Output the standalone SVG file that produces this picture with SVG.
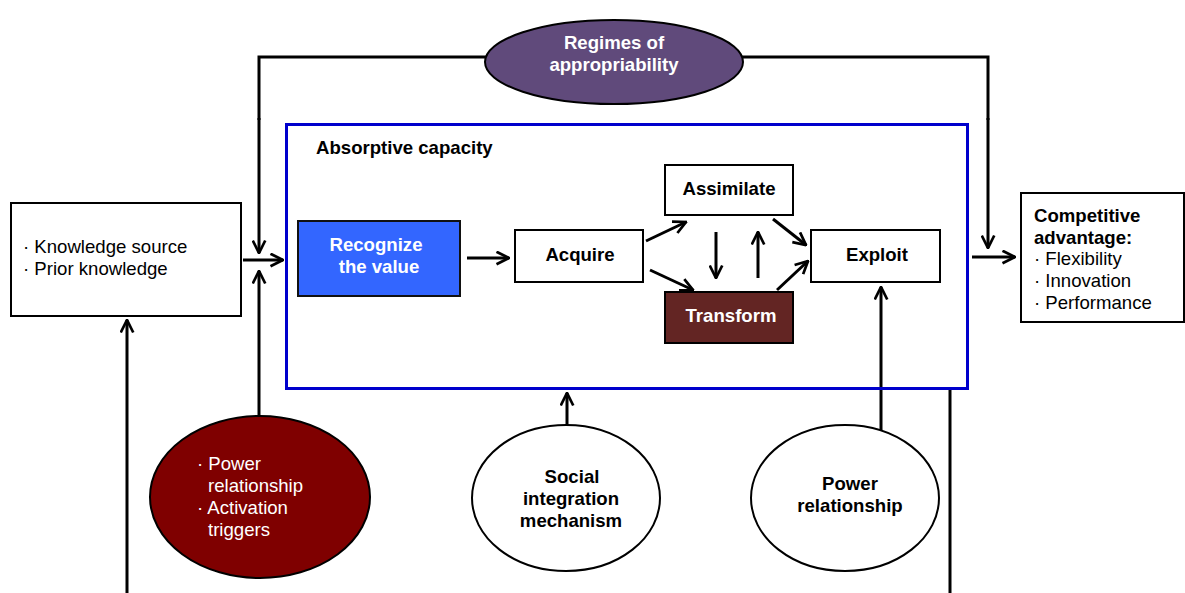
<svg xmlns="http://www.w3.org/2000/svg" width="1185" height="593" viewBox="0 0 1185 593">
  <defs>
    <marker id="arr" viewBox="0 0 12 12" refX="11" refY="6" markerWidth="5" markerHeight="5" orient="auto" markerUnits="strokeWidth">
      <path d="M1,1 L11,6 L1,11" fill="none" stroke="#000" stroke-width="2.2" stroke-linejoin="miter"/>
    </marker>
  </defs>
  <style>
    text { font-family: "Liberation Sans", Arial, sans-serif; font-size: 18.6px; }
    .b { font-weight: bold; }
    .w { fill: #ffffff; }
    .k { fill: #000000; }
    .mid { text-anchor: middle; }
    .box { fill: #ffffff; stroke: #000; stroke-width: 2; }
    .line { fill: none; stroke: #000; stroke-width: 3; }
    .arrow { fill: none; stroke: #000; stroke-width: 3; marker-end: url(#arr); }
  </style>
  <rect width="1185" height="593" fill="#ffffff"/>

  <!-- connectors -->
  <g id="connectors">
    <!-- appropriability feedback loop -->
    <polyline class="line" points="486,57 259,57 259,120"/>
    <line class="arrow" x1="259" y1="118" x2="259" y2="253"/>
    <polyline class="line" points="742,57 988,57 988,120"/>
    <line class="arrow" x1="988" y1="118" x2="988" y2="248"/>
    <!-- inputs into absorptive capacity -->
    <line class="arrow" x1="243" y1="260" x2="283" y2="260"/>
    <line class="arrow" x1="259" y1="417" x2="259" y2="271"/>
    <line class="arrow" x1="127" y1="593" x2="127" y2="320"/>
    <!-- internal process -->
    <line class="arrow" x1="467" y1="258" x2="509" y2="258"/>
    <line class="arrow" x1="646" y1="241" x2="686" y2="222"/>
    <line class="arrow" x1="650" y1="270" x2="693" y2="290"/>
    <line class="arrow" x1="716" y1="232" x2="716" y2="278"/>
    <line class="arrow" x1="758" y1="278" x2="758" y2="232"/>
    <line class="arrow" x1="773" y1="219" x2="806" y2="245"/>
    <line class="arrow" x1="777" y1="290" x2="808" y2="261"/>
    <!-- outputs -->
    <line class="arrow" x1="972" y1="257" x2="1015" y2="257"/>
    <line class="arrow" x1="567" y1="425" x2="567" y2="393"/>
    <line class="arrow" x1="881" y1="430" x2="881" y2="287"/>
    <line class="line" x1="950" y1="390" x2="950" y2="593"/>
  </g>

  <!-- absorptive capacity frame -->
  <g id="absorptive-capacity">
    <rect x="286.5" y="124.5" width="681" height="264" fill="none" stroke="#0000cc" stroke-width="3"/>
    <text class="b k" x="316" y="154">Absorptive capacity</text>
  </g>

  <g id="knowledge">
    <rect class="box" x="11" y="203" width="230" height="113"/>
    <text class="k" x="23" y="253">· Knowledge source</text>
    <text class="k" x="23" y="275">· Prior knowledge</text>
  </g>

  <g id="regimes">
    <ellipse cx="614" cy="62" rx="129" ry="42" fill="#604a7b" stroke="#000" stroke-width="2"/>
    <text class="b w mid" x="614" y="49">Regimes of</text>
    <text class="b w mid" x="614" y="71">appropriability</text>
  </g>

  <g id="recognize">
    <rect x="298" y="221" width="162" height="75" fill="#3366ff" stroke="#111" stroke-width="2"/>
    <text class="b w mid" x="376" y="251">Recognize</text>
    <text class="b w mid" x="379" y="273">the value</text>
  </g>

  <g id="acquire">
    <rect class="box" x="515" y="230" width="128" height="52"/>
    <text class="b k mid" x="580" y="261">Acquire</text>
  </g>

  <g id="assimilate">
    <rect class="box" x="665" y="165" width="128" height="50"/>
    <text class="b k mid" x="729" y="195">Assimilate</text>
  </g>

  <g id="transform">
    <rect x="665" y="292" width="128" height="51" fill="#632523" stroke="#000" stroke-width="2"/>
    <text class="b w mid" x="731" y="322">Transform</text>
  </g>

  <g id="exploit">
    <rect class="box" x="811" y="230" width="129" height="52"/>
    <text class="b k mid" x="877" y="261">Exploit</text>
  </g>

  <g id="competitive-advantage">
    <rect class="box" x="1021" y="193" width="163" height="129"/>
    <text class="b k" x="1034" y="222">Competitive</text>
    <text class="b k" x="1034" y="244">advantage:</text>
    <text class="k" x="1034" y="265">· Flexibility</text>
    <text class="k" x="1034" y="287">· Innovation</text>
    <text class="k" x="1034" y="309">· Performance</text>
  </g>

  <g id="power-triggers">
    <ellipse cx="260" cy="497" rx="110" ry="81" fill="#7f0000" stroke="#000" stroke-width="2"/>
    <text class="w" x="197" y="470">· Power</text>
    <text class="w" x="208" y="492">relationship</text>
    <text class="w" x="197" y="514">· Activation</text>
    <text class="w" x="208" y="536">triggers</text>
  </g>

  <g id="social-integration">
    <ellipse cx="566" cy="498" rx="94" ry="73" fill="#ffffff" stroke="#000" stroke-width="2"/>
    <text class="b k mid" x="572" y="483">Social</text>
    <text class="b k mid" x="571" y="505">integration</text>
    <text class="b k mid" x="571" y="527">mechanism</text>
  </g>

  <g id="power-relationship">
    <ellipse cx="845" cy="498" rx="94" ry="73" fill="#ffffff" stroke="#000" stroke-width="2"/>
    <text class="b k mid" x="850" y="490">Power</text>
    <text class="b k mid" x="850" y="512">relationship</text>
  </g>
</svg>
